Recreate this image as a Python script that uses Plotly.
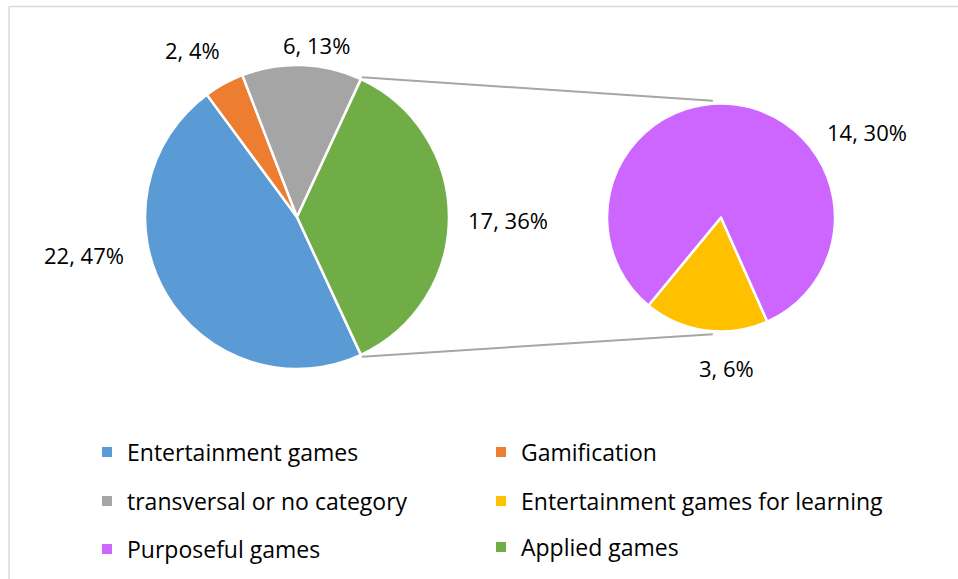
import math
import plotly.graph_objects as go

# ---------------- data ----------------
main_labels = ["Entertainment games", "Gamification", "transversal or no category", "Applied games"]
main_values = [22, 2, 6, 17]
main_colors = ["#5B9BD5", "#ED7D31", "#A5A5A5", "#70AD47"]

sub_labels = ["Entertainment games for learning", "Purposeful games"]
sub_values = [3, 14]
sub_colors = ["#FFC000", "#CC66FF"]

legend_labels = ["Entertainment games", "Gamification",
                 "transversal or no category", "Entertainment games for learning",
                 "Purposeful games", "Applied games"]

# ---------------- layout constants ----------------
W, H = 958, 579
FONT = "Open Sans"
FS = 23
C1, R1 = (297, 217), 152      # main pie centre / radius (px)
C2, R2 = (721, 217.5), 114    # secondary pie centre / radius (px)

total = sum(main_values)
applied = main_values[-1]
color_of = dict(zip(main_labels + sub_labels, main_colors + sub_colors))


def px(x):
    return x / W


def py(y):
    return 1 - y / H


def domain(c, r):
    return dict(x=[px(c[0] - r), px(c[0] + r)], y=[py(c[1] + r), py(c[1] - r)])


def pt(c, r, ang):
    a = math.radians(ang)
    return c[0] + r * math.sin(a), c[1] - r * math.cos(a)


# Applied (aggregated) slice centred at 3 o'clock
rot1 = 90 + 180 * applied / total
rot2 = 156

fig = go.Figure()
fig.add_trace(go.Pie(
    labels=main_labels, values=main_values, sort=False, direction="clockwise",
    rotation=rot1, domain=domain(C1, R1), textinfo="none", showlegend=False,
    marker=dict(colors=main_colors, line=dict(color="white", width=2.5)),
))
fig.add_trace(go.Pie(
    labels=sub_labels, values=sub_values, sort=False, direction="clockwise",
    rotation=rot2, domain=domain(C2, R2), textinfo="none", showlegend=False,
    marker=dict(colors=sub_colors, line=dict(color="white", width=2.5)),
))

# ---------------- legend (6 single-item legends in a 2x3 grid) ----------------
leg_pos = [(87, 452), (481, 452), (87, 501), (481, 501), (87, 549), (481, 547)]
legends = {}
for i, (lab, (lx, ly)) in enumerate(zip(legend_labels, leg_pos)):
    name = "legend" if i == 0 else f"legend{i + 1}"
    fig.add_trace(go.Scatter(
        x=[None], y=[None], mode="markers", name=lab, legend=name,
        marker=dict(symbol="square", size=10, color=color_of[lab]),
    ))
    legends[name] = dict(x=px(lx), y=py(ly), xanchor="left", yanchor="middle",
                         bgcolor="rgba(0,0,0,0)", font=dict(family=FONT, size=FS, color="#000"))

# ---------------- data labels ----------------
label_pos = {
    "Entertainment games": (84, 255),
    "Gamification": (192, 50),
    "transversal or no category": (316, 45),
    "Applied games": (508, 220),
    "Purposeful games": (867, 132),
    "Entertainment games for learning": (726, 368),
}
annotations = []
for lab, v in list(zip(main_labels, main_values)) + list(zip(sub_labels, sub_values)):
    x, y = label_pos[lab]
    annotations.append(dict(
        x=px(x), y=py(y), xref="paper", yref="paper", showarrow=False,
        text=f"{v}, {round(100 * v / total)}%", xanchor="center", yanchor="middle",
        font=dict(family=FONT, size=FS - 1, color="#000"),
    ))

# ---------------- connector lines & frame ----------------
a_start = rot1 - 360 * applied / total   # top edge of the Applied slice
a_end = rot1                             # bottom edge of the Applied slice
p1 = pt(C1, R1 + 2, a_start)
p2 = pt(C2, R2 + 3, -4)
p3 = pt(C1, R1 + 2, a_end)
p4 = pt(C2, R2 + 3, 184)
frame = dict(color="#D9D9D9", width=1.5)
shapes = [
    dict(type="line", xref="paper", yref="paper", x0=px(p1[0]), y0=py(p1[1]),
         x1=px(p2[0]), y1=py(p2[1]), line=dict(color="#A6A6A6", width=2)),
    dict(type="line", xref="paper", yref="paper", x0=px(p3[0]), y0=py(p3[1]),
         x1=px(p4[0]), y1=py(p4[1]), line=dict(color="#A6A6A6", width=2)),
    dict(type="line", xref="paper", yref="paper", x0=px(9), y0=py(6.5), x1=1, y1=py(6.5),
         line=frame, layer="below"),
    dict(type="line", xref="paper", yref="paper", x0=px(9), y0=py(6.5), x1=px(9), y1=0,
         line=frame, layer="below"),
]

fig.update_layout(
    width=W, height=H, margin=dict(l=0, r=0, t=0, b=0),
    paper_bgcolor="white", plot_bgcolor="white",
    xaxis=dict(visible=False), yaxis=dict(visible=False),
    annotations=annotations, shapes=shapes,
    **legends,
)

fig.write_html("out.html", config={"displayModeBar": False},
               post_script="document.body.style.margin='0';document.body.style.overflow='hidden';")
